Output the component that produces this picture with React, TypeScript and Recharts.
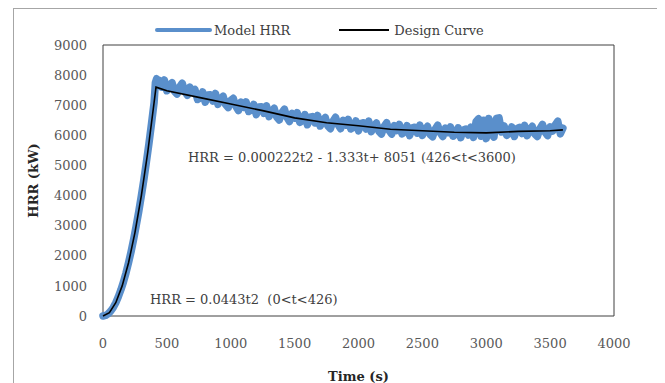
import React from 'react';
import { LineChart, Line, XAxis, YAxis, ReferenceArea, ReferenceDot, Legend } from 'recharts';

// Model HRR (noisy simulation output)
const modelTime = [
    0, 20, 40, 60, 80, 100, 120, 140, 160, 180, 200, 220, 240, 260, 280, 300, 320, 340, 360, 380, 400, 410, 420, 430,
    440, 460, 480, 500, 520, 540, 560, 580, 600, 620, 640, 660, 680, 700, 720, 740, 760, 780, 800, 820, 840, 860,
    880, 900, 920, 940, 960, 980, 1000, 1020, 1040, 1060, 1080, 1100, 1120, 1140, 1160, 1180, 1200, 1220, 1240, 1260,
    1280, 1300, 1320, 1340, 1360, 1380, 1400, 1420, 1440, 1460, 1480, 1500, 1520, 1540, 1560, 1580, 1600, 1620,
    1640, 1660, 1680, 1700, 1720, 1740, 1760, 1780, 1800, 1820, 1840, 1860, 1880, 1900, 1920, 1940, 1960, 1980,
    2000, 2020, 2040, 2060, 2080, 2100, 2120, 2140, 2160, 2180, 2200, 2220, 2240, 2260, 2280, 2300, 2320, 2340,
    2360, 2380, 2400, 2420, 2440, 2460, 2480, 2500, 2520, 2540, 2560, 2580, 2600, 2620, 2640, 2660, 2680, 2700,
    2720, 2740, 2760, 2780, 2800, 2820, 2840, 2860, 2880, 2900, 2920, 2940, 2960, 2980, 3000, 3020, 3040, 3060,
    3080, 3100, 3120, 3140, 3160, 3180, 3200, 3220, 3240, 3260, 3280, 3300, 3320, 3340, 3360, 3380, 3400, 3420,
    3440, 3460, 3480, 3500, 3520, 3540, 3560, 3580, 3600,
];
const modelHrr = [
    0, 20, 70, 160, 280, 440, 640, 870, 1130, 1430, 1770, 2140, 2550, 3000, 3470, 3990, 4530, 5120, 5740, 6400, 7090, 7750, 7880, 7700,
    7830, 7600, 7840, 7480, 7650, 7750, 7460, 7370, 7610, 7730, 7460, 7330, 7600, 7440, 7520, 7190, 7240, 7440, 7100, 7340, 7350, 7140,
    7390, 7030, 7200, 7300, 7020, 6920, 7160, 7230, 6960, 6820, 7100, 6930, 7110, 6790, 6840, 7030, 6690, 6940, 6950, 6730,
    6980, 6620, 6790, 6900, 6610, 6510, 6750, 6870, 6600, 6460, 6730, 6570, 6750, 6430, 6490, 6690, 6350, 6600,
    6620, 6410, 6660, 6310, 6480, 6590, 6310, 6220, 6470, 6600, 6350, 6220, 6500, 6340, 6530, 6210, 6270, 6480,
    6150, 6400, 6420, 6210, 6470, 6120, 6300, 6410, 6130, 6040, 6290, 6420, 6160, 6040, 6320, 6160, 6360, 6050,
    6110, 6320, 5990, 6250, 6270, 6070, 6340, 6000, 6180, 6300, 6030, 5950, 6200, 6340, 6080, 5960, 6240, 6090,
    6280, 5970, 6040, 6250, 5920, 6180, 6210, 6010, 6270, 5930, 6450, 6550, 5970, 6500, 5890, 6560, 6050, 5940,
    6560, 6580, 6110, 6310, 6000, 6070, 6280, 5960, 6220, 6260, 6060, 6330, 5990, 6180, 6300, 6040, 5960, 6220,
    6360, 6110, 5990, 6280, 6140, 6350, 6470, 6050, 6240,
];

// Design curve
const designTime = [0, 50, 100, 150, 200, 250, 300, 350, 400, 415, 500, 750, 1000, 1250, 1500, 1750, 2000, 2250, 2500, 2750, 3000, 3250, 3500, 3600];
const designHrr = [0, 110, 440, 1000, 1770, 2770, 3990, 5430, 7090, 7600, 7480, 7260, 7040, 6820, 6580, 6420, 6320, 6200, 6150, 6100, 6080, 6130, 6150, 6180];

const xTicks = [0, 500, 1000, 1500, 2000, 2500, 3000, 3500, 4000];
const yTicks = [0, 1000, 2000, 3000, 4000, 5000, 6000, 7000, 8000, 9000];

const modelData = modelTime.map((t, i) => ({ t, hrr: modelHrr[i] }));
const designData = designTime.map((t, i) => ({ t, hrr: designHrr[i] }));

const FONT = '"DejaVu Serif", serif';
const BLUE = '#5a8fcb';

const LegendBox = () => (
    <div style={{ display: 'flex', alignItems: 'center', height: 30, paddingLeft: 141, fontFamily: FONT, fontSize: 13, color: '#404040' }}>
        <span style={{ display: 'inline-block', width: 57, height: 4, borderRadius: 2, background: BLUE }} />
        <span style={{ marginLeft: 2 }}>Model HRR</span>
        <span style={{ display: 'inline-block', width: 50, height: 1.5, background: '#000', marginLeft: 49 }} />
        <span style={{ marginLeft: 5 }}>Design Curve</span>
    </div>
);

const App: React.FC = () => {
    return (
        <div style={{ marginLeft: 5, width: 644, height: 380, border: '1px solid #a6a6a6' }}>
            <LineChart width={644} height={374} margin={{ top: 6, right: 44, bottom: 0, left: 0 }}>
                <Legend verticalAlign="top" content={() => <LegendBox />} />
                <XAxis
                    dataKey="t"
                    type="number"
                    domain={[0, 4000]}
                    ticks={xTicks}
                    axisLine={false}
                    tickLine={false}
                    tickSize={0}
                    tickMargin={23}
                    height={67}
                    tick={{ fontFamily: FONT, fontSize: 13, fill: '#595959' }}
                    label={{ value: 'Time (s)', position: 'insideBottom', offset: 2, style: { fontFamily: FONT, fontSize: 13, fontWeight: 'bold', fill: '#262626' } }}
                />
                <YAxis
                    type="number"
                    domain={[0, 9000]}
                    ticks={yTicks}
                    axisLine={false}
                    tickLine={false}
                    tickSize={0}
                    tickMargin={16}
                    width={89}
                    tick={{ fontFamily: FONT, fontSize: 13, fill: '#595959' }}
                    label={{ value: 'HRR (kW)', angle: -90, position: 'insideLeft', offset: 19, style: { textAnchor: 'middle', fontFamily: FONT, fontSize: 13, fontWeight: 'bold', fill: '#262626' } }}
                />
                <ReferenceArea x1={0} x2={4000} y1={0} y2={9000} fill="none" stroke="#404040" strokeWidth={1} />
                <Line data={modelData} dataKey="hrr" type="linear" stroke={BLUE} strokeWidth={7.5} dot={false} strokeLinejoin="round" strokeLinecap="round" isAnimationActive={false} />
                <Line data={designData} dataKey="hrr" type="linear" stroke="#000" strokeWidth={1.6} dot={false} isAnimationActive={false} />
                <ReferenceDot
                    x={665}
                    y={5280}
                    r={0}
                    fill="none"
                    stroke="none"
                    label={{ value: 'HRR = 0.000222t2 - 1.333t+ 8051 (426<t<3600)', position: 'right', offset: 0, style: { fontFamily: FONT, fontSize: 13, fill: '#404040' } }}
                />
                <ReferenceDot
                    x={368}
                    y={560}
                    r={0}
                    fill="none"
                    stroke="none"
                    label={{ value: 'HRR = 0.0443t2 \u00a0(0<t<426)', position: 'right', offset: 0, style: { fontFamily: FONT, fontSize: 13, fill: '#404040' } }}
                />
            </LineChart>
        </div>
    );
};

export default App;
